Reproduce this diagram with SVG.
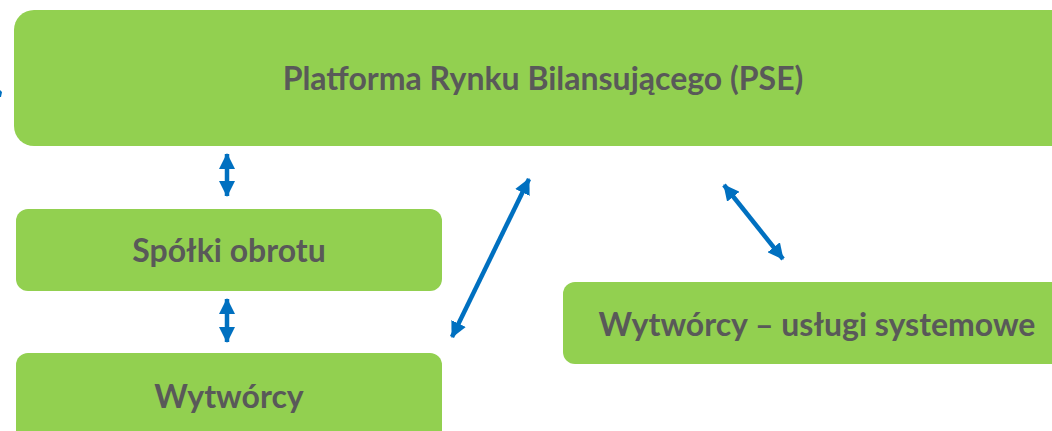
<svg xmlns="http://www.w3.org/2000/svg" width="1052" height="431" viewBox="0 0 1052 431">
<style>
.box{fill:#92D050;}
.lbl{font-family:Lato,"Liberation Sans",sans-serif;font-weight:bold;font-size:32px;fill:#595959;text-anchor:middle;}
.con{stroke:#0070C0;stroke-width:4.5;fill:none;marker-start:url(#ah);marker-end:url(#ah);}
</style>
<defs>
<marker id="ah" markerUnits="userSpaceOnUse" viewBox="0 0 16 16" refX="15" refY="8" markerWidth="16" markerHeight="16" orient="auto-start-reverse">
<path d="M0,0 L16,8 L0,16 Z" fill="#0070C0"/>
</marker>
</defs>
<rect width="1052" height="431" fill="#fff"/>
<g id="pse">
<rect class="box" x="14" y="10" width="1060" height="136" rx="20"/>
<text class="lbl" x="543" y="90">Platforma Rynku Bilansującego (PSE)</text>
</g>
<g id="spolki">
<rect class="box" x="16" y="209" width="426" height="82" rx="12"/>
<text class="lbl" x="229" y="262">Spółki obrotu</text>
</g>
<g id="wytworcy">
<rect class="box" x="16" y="353" width="426" height="100" rx="12"/>
<text class="lbl" x="229" y="408">Wytwórcy</text>
</g>
<g id="uslugi">
<rect class="box" x="563" y="282" width="520" height="82" rx="12"/>
<text class="lbl" x="817" y="336">Wytwórcy – usługi systemowe</text>
</g>
<g id="connectors">
<line class="con" x1="227" y1="154" x2="227" y2="196"/>
<line class="con" x1="227" y1="299" x2="227" y2="342"/>
<line class="con" x1="452" y1="337" x2="529" y2="179"/>
<line class="con" x1="724" y1="185" x2="783" y2="259"/>
<path d="M0,90 L2,92 L1,97 L0,97 Z" fill="#0070C0"/>
</g>
</svg>
